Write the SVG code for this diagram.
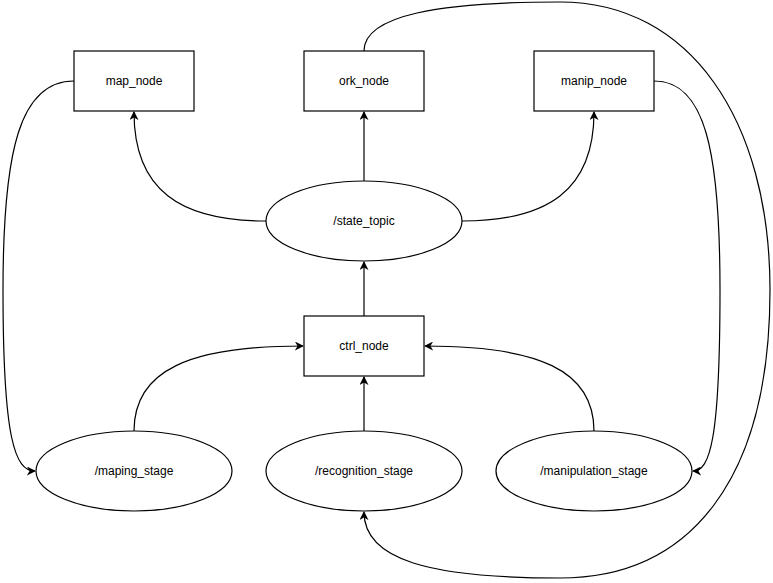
<svg xmlns="http://www.w3.org/2000/svg" width="773" height="583" viewBox="0 0 773 583">
<style>
.n{fill:#fff;stroke:#000;stroke-width:1.2}
.t{font-family:"Liberation Sans",Arial,sans-serif;font-size:12px;fill:#000;text-anchor:middle;dominant-baseline:central}
.c{fill:none;stroke:#000;stroke-width:1.2}
</style>
<defs>
<marker id="a" viewBox="0 0 10 10" refX="9" refY="5" markerWidth="9" markerHeight="9" markerUnits="userSpaceOnUse" orient="auto">
<path d="M0,0 L10,5 L0,10 L3,5 z" fill="#000"/>
</marker>
</defs>
<rect width="773" height="583" fill="#fff"/>
<g id="connectors">
<path class="c" d="M266,221 C180,221 134,190 134,112" marker-end="url(#a)"/>
<path class="c" d="M364,181 L364,112" marker-end="url(#a)"/>
<path class="c" d="M462,221 C548,221 594,190 594,112" marker-end="url(#a)"/>
<path class="c" d="M364,316 L364,262" marker-end="url(#a)"/>
<path class="c" d="M134,431 C134,370 190,346 303,346" marker-end="url(#a)"/>
<path class="c" d="M364,431 L364,377" marker-end="url(#a)"/>
<path class="c" d="M594,431 C594,370 538,346 425,346" marker-end="url(#a)"/>
<path class="c" d="M74,81 C20,81 3,150 3,290 C3,440 15,471 35,471" marker-end="url(#a)"/>
<path class="c" d="M654,81 C705,81 720,150 720,290 C720,440 710,471 693,471" marker-end="url(#a)"/>
<path class="c" d="M364,51 C364,15 440,2 560,2 C690,2 770,120 770,290 C770,480 690,578 560,578 C430,578 364,560 364,512" marker-end="url(#a)"/>
</g>
<g id="map_node"><rect class="n" x="74" y="51" width="120" height="60"/><text class="t" x="134" y="81">map_node</text></g>
<g id="ork_node"><rect class="n" x="304" y="51" width="120" height="60"/><text class="t" x="364" y="81">ork_node</text></g>
<g id="manip_node"><rect class="n" x="534" y="51" width="120" height="60"/><text class="t" x="594" y="81">manip_node</text></g>
<g id="state_topic"><ellipse class="n" cx="364" cy="221" rx="98" ry="40"/><text class="t" x="364" y="221">/state_topic</text></g>
<g id="ctrl_node"><rect class="n" x="304" y="316" width="120" height="60"/><text class="t" x="364" y="346">ctrl_node</text></g>
<g id="maping_stage"><ellipse class="n" cx="134" cy="471" rx="98" ry="40"/><text class="t" x="134" y="471">/maping_stage</text></g>
<g id="recognition_stage"><ellipse class="n" cx="364" cy="471" rx="98" ry="40"/><text class="t" x="364" y="471">/recognition_stage</text></g>
<g id="manipulation_stage"><ellipse class="n" cx="594" cy="471" rx="98" ry="40"/><text class="t" x="594" y="471">/manipulation_stage</text></g>
</svg>
